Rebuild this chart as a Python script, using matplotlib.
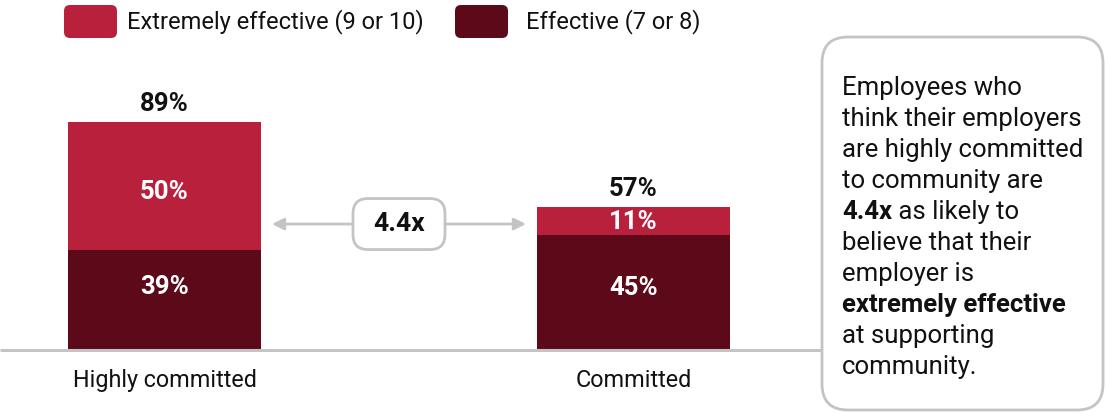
import matplotlib
matplotlib.use("Agg")
import matplotlib.pyplot as plt
from matplotlib.patches import FancyBboxPatch

plt.rcParams["font.family"] = ["Roboto", "DejaVu Sans"]

# ---- data -------------------------------------------------------------
categories = ["Highly committed", "Committed"]
extremely_effective = [50, 11]
effective = [39, 45]
total_labels = ["89%", "57%"]
series_names = ["Extremely effective (9 or 10)", "Effective (7 or 8)"]
multiplier_label = "4.4x"
callout_lines = [
    [("Employees who", "normal")],
    [("think their employers", "normal")],
    [("are highly committed", "normal")],
    [("to community are", "normal")],
    [("4.4x", "bold"), (" as likely to", "normal")],
    [("believe that their", "normal")],
    [("employer is", "normal")],
    [("extremely effective", "bold")],
    [("at supporting", "normal")],
    [("community.", "normal")],
]

RED = "#B8203C"
DARK = "#5C0A19"
GREY = "#C4C4C4"
TEXT = "#111111"

W, H = 1107, 413
fig = plt.figure(figsize=(W / 100, H / 100), dpi=100)


def fx(px):
    return px / W


def fy(py):
    return 1 - py / H


# ---- bar axes ---------------------------------------------------------
base_px, top_px, right_px = 350, 94, 822
ax = fig.add_axes([0, fy(base_px), fx(right_px), (base_px - top_px) / H])
ax.set_ylim(0, 100)
ax.set_xlim(-0.3507, 1.4019)
ax.axis("off")
px_x = 469.0          # pixels per x data unit
px_y = 2.56           # pixels per y data unit

x = list(range(len(categories)))
bw = 0.4115
ax.bar(x, effective, width=bw, color=DARK, zorder=2)
ax.bar(x, extremely_effective, width=bw, bottom=effective, color=RED, zorder=2)
ax.plot([-0.3507, 1.4019], [0, 0], color=GREY, lw=2.2, zorder=3,
        solid_capstyle="butt", clip_on=False)

label_kw = dict(ha="center", va="center", fontsize=18.5, fontweight="bold")
inner_shift = [(5.0, -2.3), (1.7, -0.4)]  # nudges for (effective, extremely) labels
for i in x:
    e, ee = effective[i], extremely_effective[i]
    ax.text(i, e / 2 + inner_shift[i][0], f"{e}%", color="white", **label_kw)
    ax.text(i, e + ee / 2 + inner_shift[i][1], f"{ee}%", color="white", **label_kw)
    ax.text(i, e + ee + 7, total_labels[i], color=TEXT, **label_kw)
    ax.text(i, -12.0, categories[i], ha="center", va="center",
            fontsize=16.8, color=TEXT)

# multiplier arrow between bars
gap = 11 / px_x
y_arrow = 49.2
arrow_kw = dict(arrowstyle="-|>,head_length=0.7,head_width=0.35",
                color=GREY, lw=2, shrinkA=0, shrinkB=0)
ax.annotate("", xy=(bw / 2 + gap, y_arrow), xytext=(0.5, y_arrow),
            arrowprops=arrow_kw)
ax.annotate("", xy=(1 - bw / 2 - gap, y_arrow), xytext=(0.5, y_arrow),
            arrowprops=arrow_kw)
bx_w, bx_h, rad = 92 / px_x, 51 / px_y, 15 / px_x
ax.add_patch(FancyBboxPatch((0.5 - bx_w / 2 + rad, y_arrow - bx_h / 2 + rad * px_x / px_y),
                            bx_w - 2 * rad, bx_h - 2 * rad * px_x / px_y,
                            boxstyle=f"round,pad={rad}", mutation_aspect=px_x / px_y,
                            fc="white", ec=GREY, lw=2, zorder=4))
ax.text(0.5, y_arrow, multiplier_label, ha="center", va="center",
        fontsize=19, fontweight="bold", color=TEXT, zorder=5)

# ---- overlay in pixel coordinates: legend + callout -------------------
ov = fig.add_axes([0, 0, 1, 1], zorder=-1)
ov.set_xlim(0, W)
ov.set_ylim(H, 0)
ov.axis("off")

legend_items = [(64, 127, RED, series_names[0]), (455, 526, DARK, series_names[1])]
for x0, tx, col, name in legend_items:
    ov.add_patch(FancyBboxPatch((x0 + 6, 11), 53 - 12, 33 - 12,
                                boxstyle="round,pad=6", fc=col, ec="none"))
    ov.text(tx, 22, name, ha="left", va="center", fontsize=17, color=TEXT)

ov.add_patch(FancyBboxPatch((822 + 26, 37 + 26), 281 - 52, 373 - 52,
                            boxstyle="round,pad=26", fc="white", ec=GREY, lw=2))

line_y0, line_step = 88, 31
for k, parts in enumerate(callout_lines):
    y = line_y0 + k * line_step
    prev = None
    for txt, weight in parts:
        if prev is None:
            prev = ov.text(842, y, txt, ha="left", va="center", fontsize=18.5,
                           fontweight=weight, color=TEXT)
        else:
            prev = ov.annotate(txt, xy=(1, 0), xycoords=prev, ha="left",
                               va="bottom", fontsize=18.5, fontweight=weight,
                               color=TEXT)

fig.savefig("out.png", dpi=100)
